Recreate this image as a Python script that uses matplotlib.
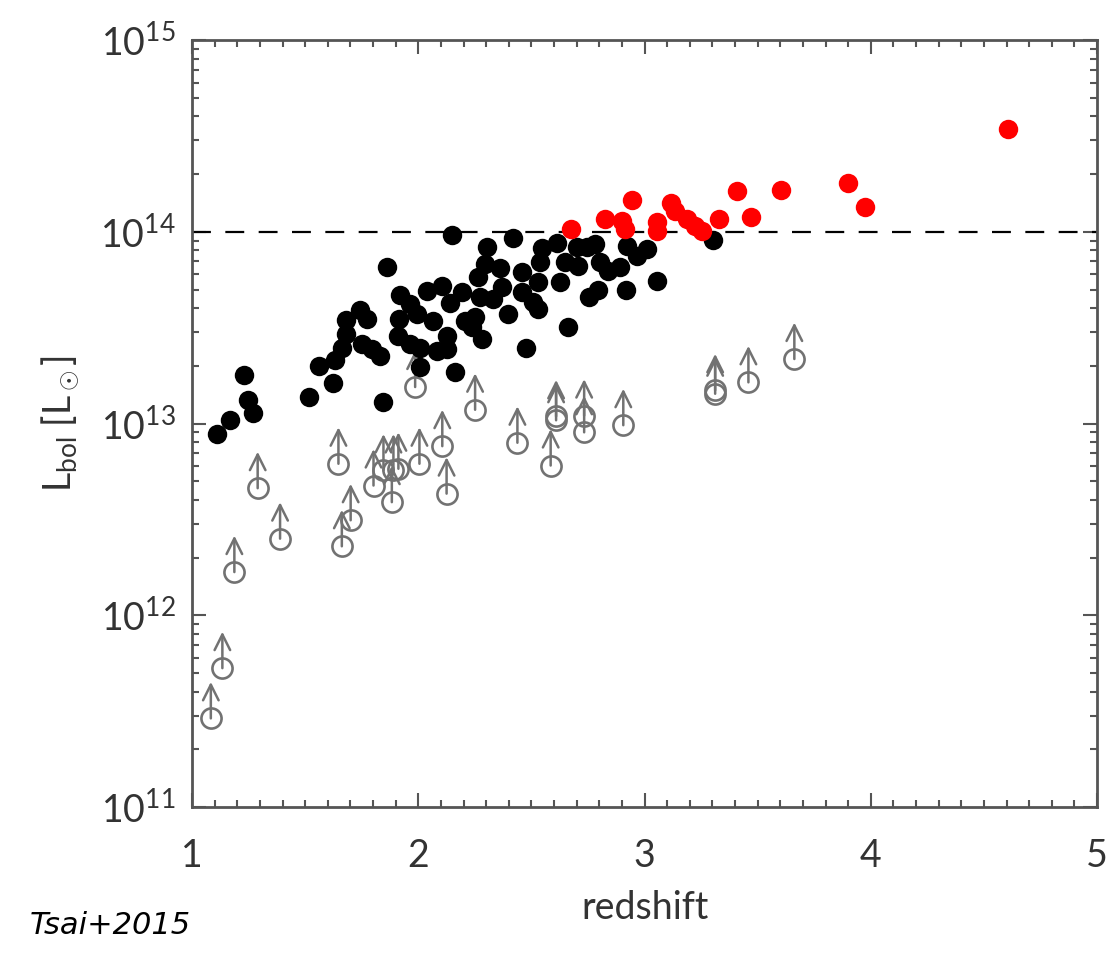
"""Bolometric luminosity vs redshift for Hot DOGs (Tsai+2015 style figure)."""

import matplotlib
matplotlib.use("Agg")
import matplotlib.pyplot as plt
import numpy as np
from matplotlib.ticker import LogFormatterMathtext, LogLocator, MultipleLocator

plt.rcParams["font.family"] = ["Lato", "DejaVu Sans"]
plt.rcParams["mathtext.fontset"] = "custom"
plt.rcParams["mathtext.rm"] = "Lato"
plt.rcParams["mathtext.it"] = "Lato:italic"

# luminosities in units of 1e13 L_sun
z_det = [1.109, 1.168, 1.231, 1.249, 1.268, 1.518, 1.563, 1.622, 1.632, 1.662,
         1.681, 1.681, 1.743, 1.775, 1.750, 1.794, 1.831, 1.843, 1.863, 1.919,
         1.916, 1.912, 1.964, 1.993, 2.037, 2.104, 2.067, 1.964, 2.008, 2.008,
         2.082, 2.162, 2.148, 2.302, 2.417, 2.546, 2.612, 2.700, 2.744, 2.781,
         2.921, 2.965, 3.009, 3.304, 2.295, 2.361, 2.265, 2.457, 2.538, 2.649,
         2.707, 2.803, 2.840, 2.892, 2.531, 2.627, 3.054, 2.918, 2.756, 2.796,
         2.192, 2.140, 2.273, 2.332, 2.369, 2.457, 2.509, 2.531, 2.398, 2.206,
         2.251, 2.236, 2.280, 2.125, 2.125, 2.476, 2.660]
L_det = [0.88, 1.04, 1.80, 1.33, 1.13, 1.38, 1.99, 1.62, 2.15, 2.47,
         2.93, 3.47, 3.91, 3.51, 2.60, 2.45, 2.26, 1.30, 6.52, 4.70,
         3.51, 2.87, 4.20, 3.72, 4.89, 5.24, 3.44, 2.60, 2.49, 1.96,
         2.40, 1.85, 9.64, 8.38, 9.23, 8.28, 8.73, 8.38, 8.38, 8.63,
         8.45, 7.50, 8.13, 9.08, 6.79, 6.44, 5.78, 6.14, 6.92, 6.92,
         6.65, 6.92, 6.27, 6.52, 5.45, 5.45, 5.56, 4.99, 4.58, 4.99,
         4.83, 4.26, 4.55, 4.46, 5.13, 4.83, 4.29, 3.95, 3.72, 3.44,
         3.58, 3.18, 2.76, 2.87, 2.45, 2.47, 3.18]

# hyper-luminous sources above 1e14 L_sun
z_hld = [4.605, 3.898, 3.976, 3.602, 3.407, 3.469, 3.328, 3.116, 3.135, 3.186,
         3.223, 3.253, 3.054, 3.054, 2.675, 2.825, 2.899, 2.914, 2.945]
L_hld = [34.3, 17.9, 13.5, 16.6, 16.4, 12.0, 11.7, 14.2, 12.9, 11.6,
         10.7, 10.1, 11.2, 10.1, 10.3, 11.6, 11.4, 10.3, 14.7]

# lower limits
z_lim = [1.083, 1.134, 1.187, 1.290, 1.389, 1.647, 1.701, 1.662, 1.802, 1.846,
         1.890, 1.912, 1.883, 2.005, 2.106, 2.125, 1.986, 2.251, 2.438, 2.609,
         2.609, 2.585, 2.733, 2.733, 2.906, 3.312, 3.312, 3.459, 3.662]
L_lim = [0.029, 0.053, 0.168, 0.46, 0.251, 0.617, 0.313, 0.229, 0.475, 0.569,
         0.569, 0.581, 0.389, 0.617, 0.762, 0.431, 1.55, 1.18, 0.794, 1.04,
         1.09, 0.604, 1.10, 0.90, 0.98, 1.43, 1.49, 1.64, 2.17]

L_cut = 1e14
arrow_dex = 0.19
grey = "#727272"
text_col = "#333333"
axis_col = "#555555"

fig = plt.figure(figsize=(11.14, 9.65), dpi=100)
ax = fig.add_axes([0.1724, 0.1637, 0.8124, 0.7948])

ld = np.array(L_lim) * 1e13
for z, l in zip(z_lim, ld):
    ax.annotate("", xy=(z, l * 10**arrow_dex), xytext=(z, l),
                arrowprops=dict(arrowstyle="->", color=grey, lw=1.8,
                                mutation_scale=28, shrinkA=0, shrinkB=0))
ax.plot(z_lim, ld, "o", ms=14.5, mfc="none", mec=grey, mew=1.9, zorder=3)

ax.plot(z_det, np.array(L_det) * 1e13, "o", ms=14, color="black",
        mec="none", zorder=4)
ax.plot(z_hld, np.array(L_hld) * 1e13, "o", ms=14, color="red",
        mec="none", zorder=4)

ax.axhline(L_cut, color="black", lw=1.6, dashes=(8.5, 6.5), zorder=2)

ax.set_yscale("log")
ax.set_xlim(1, 5)
ax.set_ylim(1e11, 1e15)

ax.xaxis.set_major_locator(MultipleLocator(1))
ax.xaxis.set_minor_locator(MultipleLocator(0.1))
ax.yaxis.set_major_locator(LogLocator(base=10))
ax.yaxis.set_minor_locator(LogLocator(base=10, subs=np.arange(2, 10)))
ax.yaxis.set_major_formatter(LogFormatterMathtext())

ax.tick_params(which="both", direction="in", top=True, right=True,
               colors=axis_col, labelcolor=text_col, width=1.5)
ax.tick_params(which="major", length=10, labelsize=27)
ax.tick_params(which="minor", length=5)
ax.tick_params(axis="x", which="major", pad=22)
ax.tick_params(axis="y", which="major", pad=12)
for s in ax.spines.values():
    s.set_color(axis_col)
    s.set_linewidth(2)

ax.set_xlabel("redshift", fontsize=27, color=text_col, labelpad=12)
ax.set_ylabel(r"L$_{\mathrm{bol}}$ [L$_\odot$]", fontsize=27,
              color=text_col, labelpad=14)

fig.text(0.027, 0.032, "Tsai+2015", fontsize=22, style="italic",
         family="DejaVu Sans", color="black")

fig.savefig("out.png", dpi=100)
